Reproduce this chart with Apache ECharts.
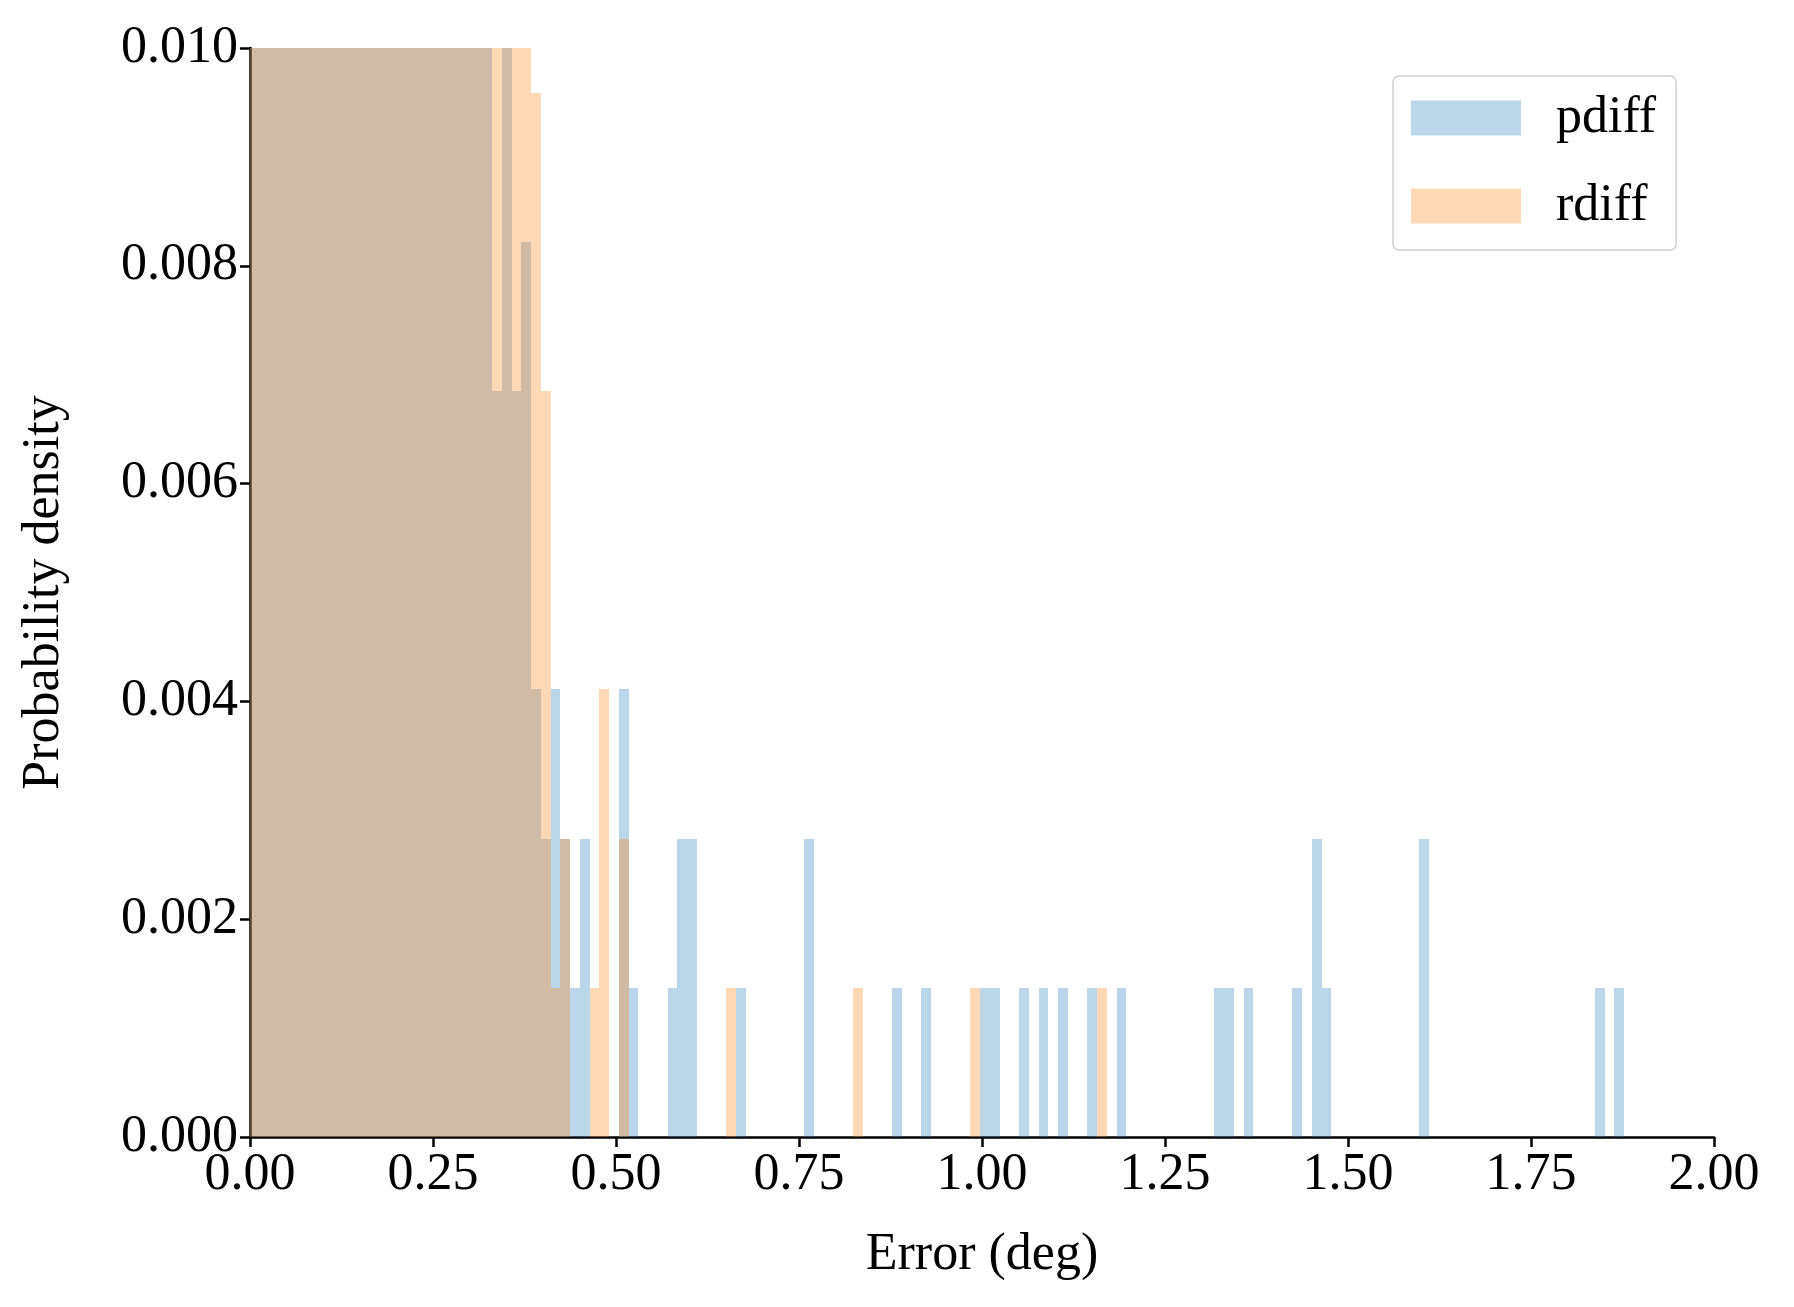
<!DOCTYPE html>
<html><head><meta charset="utf-8">
<script src="https://cdn.jsdelivr.net/npm/echarts@6/dist/echarts.min.js"></script>
<style>html,body{margin:0;padding:0;background:#fff}#c{width:1794px;height:1307px}</style>
</head><body><div id="c"></div>
<script>
// histogram bin geometry
const binStart = -0.0027;
const binWidth = 0.013333;
// [bin index, density] — bins 0..28 exceed the 0.010 axis top (clipped; heights estimated)
const pdiffBins = [
  [0,0.020],[1,0.030],[2,0.040],[3,0.050],[4,0.055],[5,0.060],[6,0.062],[7,0.060],[8,0.058],[9,0.055],
  [10,0.050],[11,0.047],[12,0.043],[13,0.040],[14,0.036],[15,0.032],[16,0.028],[17,0.025],[18,0.022],[19,0.019],
  [20,0.016],[21,0.014],[22,0.012],[23,0.011],[24,0.0105],[25,0.00685],[26,0.0105],[27,0.00685],[28,0.00822],[29,0.00411],
  [30,0.00274],[31,0.00411],[32,0.00274],[33,0.00137],[34,0.00274],[38,0.00411],[39,0.00137],[43,0.00137],[44,0.00274],[45,0.00274],
  [50,0.00137],[57,0.00274],[66,0.00137],[69,0.00137],[75,0.00137],[76,0.00137],[79,0.00137],[81,0.00137],[83,0.00137],[86,0.00137],
  [89,0.00137],[99,0.00137],[100,0.00137],[102,0.00137],[107,0.00137],[109,0.00274],[110,0.00137],[120,0.00274],[138,0.00137],[140,0.00137]
];
const rdiffBins = [
  [0,0.025],[1,0.035],[2,0.045],[3,0.055],[4,0.060],[5,0.064],[6,0.065],[7,0.063],[8,0.060],[9,0.056],
  [10,0.052],[11,0.048],[12,0.044],[13,0.040],[14,0.036],[15,0.032],[16,0.028],[17,0.025],[18,0.022],[19,0.019],
  [20,0.017],[21,0.015],[22,0.013],[23,0.012],[24,0.011],[25,0.0105],[26,0.0105],[27,0.0105],[28,0.0105],[29,0.00959],
  [30,0.00685],[31,0.00137],[32,0.00274],[35,0.00137],[36,0.00411],[38,0.00274],[49,0.00137],[62,0.00137],[74,0.00137],[87,0.00137]
];
const xTicks = {min:0, max:2, interval:0.25};
const yTicks = {min:0, max:0.010, interval:0.002};
const seriesNames = ['pdiff','rdiff'];
const seriesColors = ['rgba(31,119,180,0.3)','rgba(255,127,14,0.3)'];

function toRects(bins){ return bins.map(([k,h]) => [binStart + k*binWidth, binStart + (k+1)*binWidth, h]); }

function renderItem(color){
  return function(params, api){
    const p0 = api.coord([api.value(0), 0]);
    const p1 = api.coord([api.value(1), api.value(2)]);
    const cs = params.coordSys;
    const xa = Math.round(Math.max(p0[0], cs.x)), xb = Math.round(Math.min(p1[0], cs.x + cs.width));
    const ya = Math.round(Math.max(p1[1], cs.y)), yb = Math.round(Math.min(p0[1], cs.y + cs.height));
    if (xb <= xa || yb <= ya) return null;
    return {type:'rect', shape:{x:xa, y:ya, width:xb-xa, height:yb-ya}, style:{fill:color}};
  };
}

const font = 'Liberation Serif';
const chart = echarts.init(document.getElementById('c'), null, {renderer:'canvas'});
chart.setOption({
  animation:false,
  textStyle:{fontFamily:font},
  grid:{left:250, right:80, top:48, bottom:170, containLabel:false},
  legend:{
    orient:'vertical', left:1393, top:76, padding:[16,20,18,18],
    itemWidth:110, itemHeight:35, itemGap:36,
    borderColor:'#d0d0d0', borderWidth:1.5, borderRadius:6, backgroundColor:'#fff',
    icon:'rect',
    textStyle:{fontFamily:font, fontSize:52, color:'#000', padding:[0,0,0,30]},
    data:seriesNames
  },
  xAxis:{
    type:'value', min:xTicks.min, max:xTicks.max, interval:xTicks.interval,
    name:'Error (deg)', nameLocation:'middle', nameGap:92,
    nameTextStyle:{fontFamily:font, fontSize:52, color:'#000'},
    axisLine:{lineStyle:{color:'#000', width:2.5}},
    axisTick:{show:true, length:10, lineStyle:{color:'#000', width:2.5}},
    axisLabel:{fontFamily:font, fontSize:52, color:'#000', margin:12, formatter:v=>v.toFixed(2)},
    splitLine:{show:false}
  },
  yAxis:{
    type:'value', min:yTicks.min, max:yTicks.max, interval:yTicks.interval,
    name:'Probability density', nameLocation:'middle', nameGap:180,
    nameTextStyle:{fontFamily:font, fontSize:52, color:'#000'},
    axisLine:{show:true, lineStyle:{color:'#000', width:2.5}},
    axisTick:{show:true, length:10, lineStyle:{color:'#000', width:2.5}},
    axisLabel:{fontFamily:font, fontSize:52, color:'#000', margin:12, formatter:v=>v.toFixed(3)},
    splitLine:{show:false}
  },
  series:[
    {name:seriesNames[0], type:'custom', renderItem:renderItem(seriesColors[0]), itemStyle:{color:seriesColors[0]},
     encode:{x:[0,1], y:2}, data:toRects(pdiffBins), z:2},
    {name:seriesNames[1], type:'custom', renderItem:renderItem(seriesColors[1]), itemStyle:{color:seriesColors[1]},
     encode:{x:[0,1], y:2}, data:toRects(rdiffBins), z:3}
  ]
});
</script></body></html>
